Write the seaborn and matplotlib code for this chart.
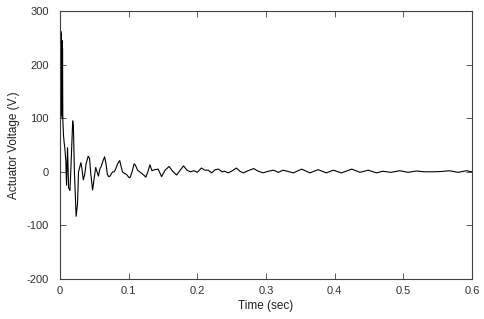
import pandas as pd
import numpy as np
import matplotlib
matplotlib.use("Agg")
import matplotlib.pyplot as plt
import seaborn as sns

# values (time in sec, voltage in V)
time_sec = [0.0, 0.0012, 0.0017, 0.0021, 0.0025, 0.0029, 0.0033, 0.0037, 0.0041,
            0.005, 0.006, 0.007, 0.0085, 0.0095, 0.011, 0.0125, 0.0145, 0.016,
            0.0185, 0.0195, 0.021, 0.0235, 0.0255, 0.027, 0.029, 0.0305, 0.032,
            0.034, 0.036, 0.038, 0.041, 0.043, 0.045, 0.0475, 0.050, 0.052,
            0.054, 0.056, 0.058, 0.060, 0.0625, 0.065, 0.067, 0.069, 0.071,
            0.073, 0.075, 0.077, 0.079, 0.081, 0.084, 0.087, 0.089, 0.091,
            0.094, 0.097, 0.100, 0.102, 0.105, 0.108, 0.110, 0.113, 0.116,
            0.119, 0.122, 0.125, 0.128, 0.131, 0.134, 0.138, 0.143, 0.148,
            0.153, 0.159, 0.164, 0.170, 0.175, 0.180, 0.185, 0.190, 0.195,
            0.200, 0.206, 0.211, 0.216, 0.221, 0.226, 0.231, 0.236, 0.240,
            0.245, 0.251, 0.257, 0.262, 0.267, 0.272, 0.282, 0.289, 0.296,
            0.303, 0.311, 0.318, 0.325, 0.331, 0.340, 0.352, 0.364, 0.376,
            0.388, 0.398, 0.410, 0.425, 0.437, 0.449, 0.461, 0.470, 0.482,
            0.495, 0.507, 0.519, 0.531, 0.543, 0.555, 0.567, 0.580, 0.592, 0.6]
voltage = [0, 262, 115, 258, 105, 245, 100, 230, 98,
           70, 55, 45, 20, -25, 45, -30, -35, 10,
           95, 85, 0, -83, -60, 0, 10, 17, 5,
           -15, -5, 15, 29, 25, -5, -34, -10, 8,
           0, -8, 5, 10, 20, 28, 15, -5, -9,
           -8, -3, 0, 0, 5, 15, 21, 10, 0,
           -3, -5, -10, -11, 0, 15, 12, 3, 0,
           -3, -6, -10, 0, 13, 2, 4, 5, -9,
           3, 10, 1, -6, 3, 11, 3, 0, 2,
           -1, 7, 3, 3, -2, 4, 5, 0, 1,
           -2, 2, 7, 1, -2, 1, 6, 1, -2,
           1, 3, -1, 3, 1, -2, 5, -2, 4,
           -2, 3, -2, 5, -1, 3, -2, 1, -1,
           2, -1, 1.5, 0, 0, 0.5, 2, -1, 2, 0]

df = pd.DataFrame({"Time (sec)": time_sec, "Actuator Voltage (V.)": voltage})

sns.set_style("ticks")
plt.rcParams["font.family"] = ["Liberation Sans", "DejaVu Sans"]
plt.rcParams["axes.unicode_minus"] = False

fig = plt.figure(figsize=(4.85, 3.19), dpi=100)
ax = fig.add_axes([0.1237, 0.1254, 0.8493, 0.8401])
sns.lineplot(data=df, x="Time (sec)", y="Actuator Voltage (V.)", ax=ax,
             color="black", linewidth=0.8, estimator=None, sort=False)

ax.set_xlim(0, 0.6)
ax.set_ylim(-200, 300)
ax.set_xticks([0, 0.1, 0.2, 0.3, 0.4, 0.5, 0.6])
ax.set_xticklabels(["0", "0.1", "0.2", "0.3", "0.4", "0.5", "0.6"])
ax.set_yticks([-200, -100, 0, 100, 200, 300])
ax.tick_params(direction="in", length=4, width=0.6, top=True, right=True,
               labelsize=8, colors="#404040", labelcolor="#303030")
ax.tick_params(axis="y", pad=8)
ax.tick_params(axis="x", pad=5)
for s in ax.spines.values():
    s.set_visible(True)
    s.set_color("#404040")
    s.set_linewidth(0.8)
ax.set_xlabel("Time (sec)", fontsize=8.5, color="#202020", labelpad=3)
ax.set_ylabel("Actuator Voltage (V.)", fontsize=8.5, color="#202020", labelpad=5)

fig.savefig("out.png", dpi=100)
